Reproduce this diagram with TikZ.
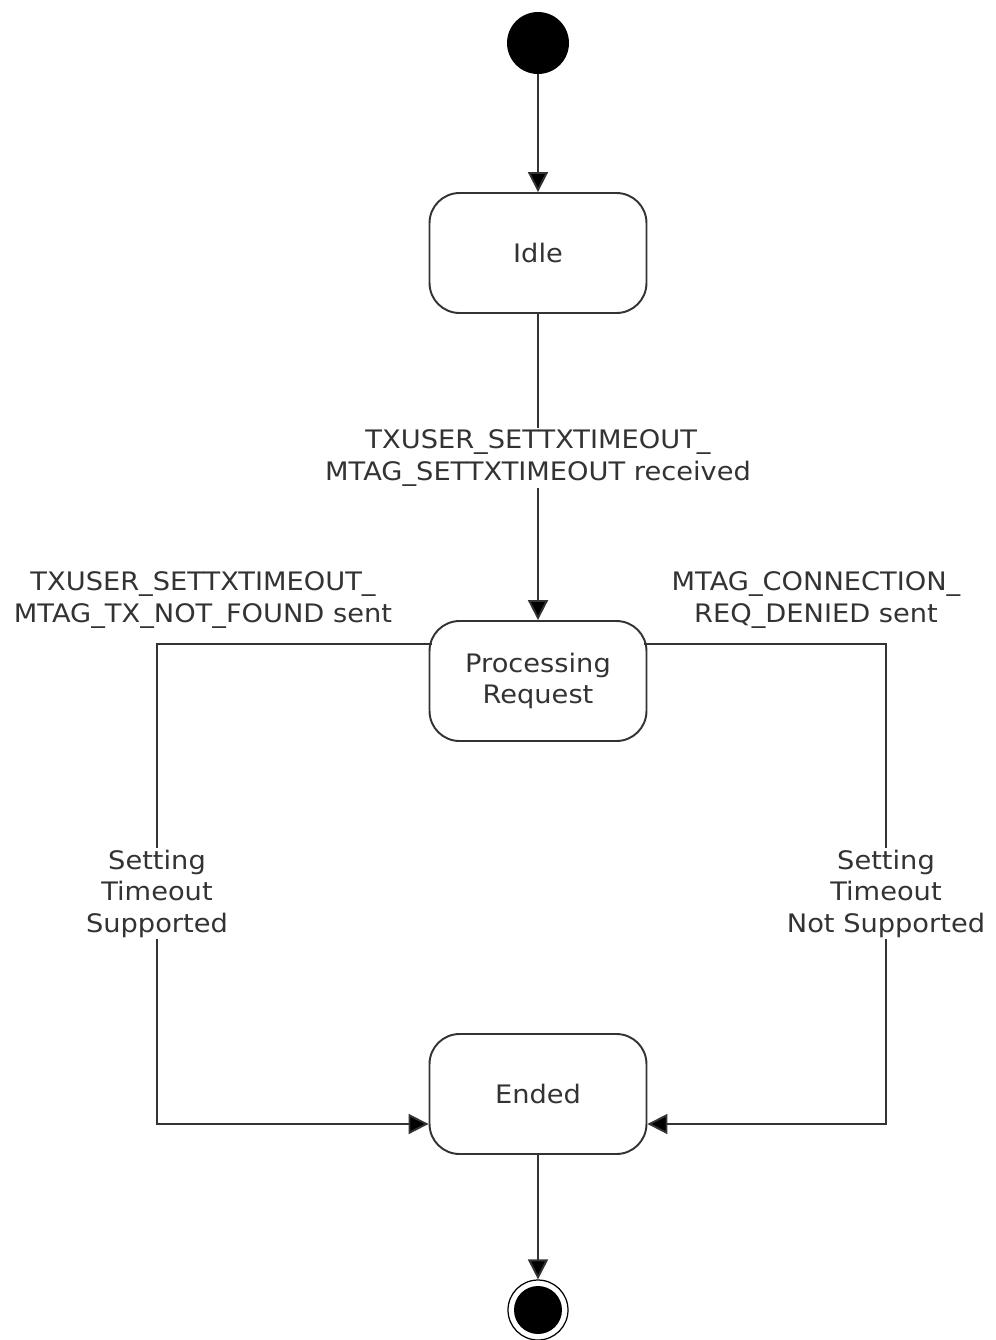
\documentclass[tikz,border=0pt]{standalone}
\usepackage{fontspec}
\setmainfont[FakeStretch=1.07]{DejaVu Sans}
\usetikzlibrary{positioning,arrows.meta}

\begin{document}
\begin{tikzpicture}[
  x=0.02cm, y=-0.02cm,
  font=\fontsize{14.5}{18}\selectfont,
  state/.style={draw=black!80, rounded corners=0.6cm, minimum width=4.34cm,
                minimum height=2.4cm, line width=1.1pt, align=center,
                text=black!80},
  initial/.style={circle, fill=black, minimum size=1.24cm, inner sep=0pt},
  final/.style={circle, draw=black, line width=0.7pt, fill=white,
                minimum size=1.2cm, inner sep=0pt},
  flow/.style={-{Triangle[length=4mm, width=4mm, fill=black]}, line width=1.1pt,
               draw=black!80},
  lab/.style={fill=white, align=center, text=black!80, inner sep=1pt},
]
  \useasboundingbox (0,0) rectangle (995,1340);

  \node[initial] (start) at (538,43) {};
  \node[state] (idle) at (538,253) {Idle};
  \node[state] (proc) at (538,681) {Processing\\Request};
  \node[state] (ended) at (538,1094) {Ended};
  \node[final] (stop) at (538,1310) {};
  \fill[black] (stop) circle (0.48cm);

  % corners of the side paths
  \coordinate (lt) at (157,644);
  \coordinate (lb) at (157,1124);
  \coordinate (rt) at (886,644);
  \coordinate (rb) at (886,1124);

  \draw[flow] (start) -- (idle);
  \draw[flow] (idle) -- node[lab, pos=0.47]
    {TXUSER\_SETTXTIMEOUT\_\\MTAG\_SETTXTIMEOUT received} (proc);
  \draw[flow] ([xshift=2pt]proc.west |- lt) -- (lt)
    -- node[lab, pos=0.52] {Setting\\Timeout\\Supported} (lb)
    -- (ended.west |- lb);
  \draw[flow] ([xshift=-2pt]proc.east |- rt) -- (rt)
    -- node[lab, pos=0.52] {Setting\\Timeout\\Not Supported} (rb)
    -- (ended.east |- rb);
  \draw[flow] (ended) -- (stop);

  \node[lab, fill=none] at (203,600)
    {TXUSER\_SETTXTIMEOUT\_\\MTAG\_TX\_NOT\_FOUND sent};
  \node[lab, fill=none] at (816,600)
    {MTAG\_CONNECTION\_\\REQ\_DENIED sent};
\end{tikzpicture}
\end{document}
